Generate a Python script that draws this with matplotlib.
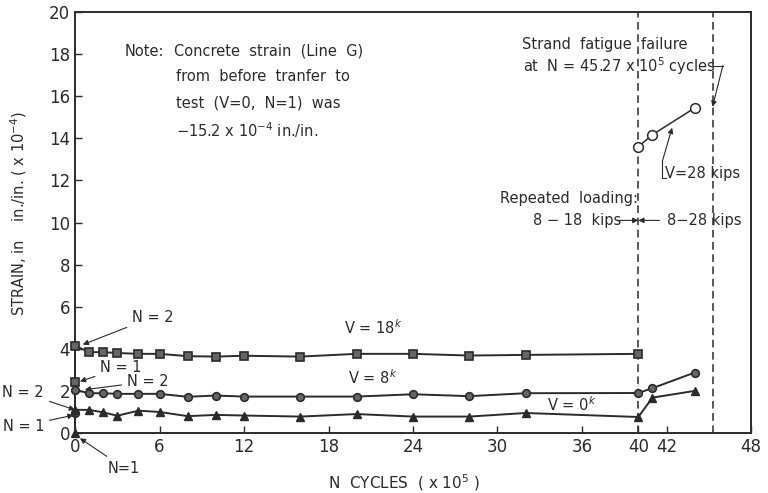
import matplotlib
matplotlib.use("Agg")
import matplotlib.pyplot as plt

# ---- data (N cycles x 10^5, strain x 10^-4) ----
sq_x = [0, 0, 1, 2, 3, 4.5, 6, 8, 10, 12, 16, 20, 24, 28, 32, 40]
sq_y = [2.4, 4.15, 3.84, 3.84, 3.8, 3.76, 3.76, 3.65, 3.63, 3.67, 3.63, 3.76, 3.76, 3.68, 3.71, 3.76]

ci_x = [0, 0, 1, 2, 3, 4.5, 6, 8, 10, 12, 16, 20, 24, 28, 32, 40, 41, 44]
ci_y = [0.95, 2.05, 1.89, 1.89, 1.86, 1.86, 1.86, 1.72, 1.78, 1.73, 1.73, 1.73, 1.84, 1.75, 1.89, 1.9, 2.13, 2.87]

tr_x = [0, 0, 1, 2, 3, 4.5, 6, 8, 10, 12, 16, 20, 24, 28, 32, 40, 41, 44]
tr_y = [0.0, 1.1, 1.1, 0.98, 0.82, 1.06, 1.0, 0.8, 0.86, 0.83, 0.78, 0.9, 0.78, 0.78, 0.95, 0.76, 1.68, 2.0]

v28_x = [40, 41, 44]
v28_y = [13.6, 14.17, 15.44]

load_change_x = 40
failure_x = 45.27

xticks = [0, 6, 12, 18, 24, 30, 36, 40, 42, 48]
yticks = [0, 2, 4, 6, 8, 10, 12, 14, 16, 18, 20]

C = "#2b2b2b"

fig = plt.figure(figsize=(7.68, 4.93), dpi=100)
ax = fig.add_axes([75/768, 1-433/493, (751-75)/768, (433-12)/493])
ax.set_xlim(0, 48)
ax.set_ylim(0, 20)

for s in ax.spines.values():
    s.set_color(C)
    s.set_linewidth(1.4)

ax.set_xticks(xticks)
ax.set_yticks(yticks)
ax.tick_params(direction="in", length=5, width=1.0, colors=C, labelsize=12, labelcolor=C)

# dashed reference lines
ax.axvline(load_change_x, color=C, lw=1.1, ls=(0, (5, 3)))
ax.axvline(failure_x, color=C, lw=1.1, ls=(0, (5, 3)))

lw = 1.4
ax.plot(sq_x, sq_y, color=C, lw=lw, marker="s", ms=5.5, mfc="#666666", mec=C, mew=1.2, clip_on=False, zorder=3)
ax.plot(ci_x, ci_y, color=C, lw=lw, marker="o", ms=5.5, mfc="#666666", mec=C, mew=1.2, clip_on=False, zorder=3)
ax.plot(tr_x, tr_y, color=C, lw=lw, marker="^", ms=6, mfc=C, mec=C, clip_on=False, zorder=3)
ax.plot(v28_x, v28_y, color=C, lw=1.1, marker="o", ms=7, mfc="white", mec=C, mew=1.1, clip_on=False, zorder=3)

fs = 10.5
ap = dict(arrowstyle="-|>", lw=0.8, color=C, mutation_scale=8, shrinkA=0, shrinkB=0)

# Note text
ax.text(3.55, 18.13, "Note:", fontsize=fs, color=C, va="center", ha="left")
ax.text(7.0, 18.13, "Concrete  strain  (Line  G)", fontsize=fs, color=C, va="center", ha="left")
ax.text(7.2, 16.94, "from  before  tranfer  to", fontsize=fs, color=C, va="center", ha="left")
ax.text(7.2, 15.69, "test  (V=0,  N=1)  was", fontsize=fs, color=C, va="center", ha="left")
ax.text(7.2, 14.4, "\u221215.2 x 10$^{-4}$ in./in.", fontsize=fs, color=C, va="center", ha="left")

# strand failure
ax.text(31.75, 18.47, "Strand  fatigue  failure", fontsize=fs, color=C, va="center", ha="left")
ax.text(31.8, 17.42, "at  N = 45.27 x 10$^5$ cycles", fontsize=fs, color=C, va="center", ha="left")
ax.plot([45.3, 46.0], [17.45, 17.45], color=C, lw=0.8)
ax.annotate("", xy=(failure_x, 15.5), xytext=(46.0, 17.45), arrowprops=ap)

# V = 28 kips
ax.text(41.9, 12.34, "V=28 kips", fontsize=fs, color=C, va="center", ha="left")
ax.plot([41.95, 41.7, 41.7], [12.1, 12.1, 12.9], color=C, lw=0.8)
ax.annotate("", xy=(42.4, 14.5), xytext=(41.7, 12.9), arrowprops=ap)

# repeated loading
ax.text(30.2, 11.15, "Repeated  loading:", fontsize=fs, color=C, va="center", ha="left")
ax.text(32.5, 10.1, "8 \u2212 18  kips", fontsize=fs, color=C, va="center", ha="left")
ax.text(42.05, 10.1, "8\u221228 kips", fontsize=fs, color=C, va="center", ha="left")
ax.annotate("", xy=(load_change_x, 10.1), xytext=(38.5, 10.1), arrowprops=ap)
ax.annotate("", xy=(load_change_x, 10.1), xytext=(41.5, 10.1), arrowprops=ap)

# series labels
ax.text(21.2, 5.02, "V = 18$^k$", fontsize=fs, color=C, va="center", ha="center")
ax.text(21.1, 2.63, "V = 8$^k$", fontsize=fs, color=C, va="center", ha="center")
ax.text(35.3, 1.34, "V = 0$^k$", fontsize=fs, color=C, va="center", ha="center")

# N labels
ax.annotate("N = 2", xy=(0.55, 4.2), xytext=(4.05, 5.5), fontsize=fs, color=C,
            va="center", ha="left", arrowprops=dict(ap, shrinkA=2))
ax.annotate("N = 1", xy=(0.35, 2.45), xytext=(1.8, 3.1), fontsize=fs, color=C,
            va="center", ha="left", arrowprops=dict(ap, shrinkA=2))
ax.annotate("N = 2", xy=(0.7, 2.06), xytext=(3.7, 2.44), fontsize=fs, color=C,
            va="center", ha="left", arrowprops=dict(ap, shrinkA=2))
ax.annotate("N = 2", xy=(0.0, 1.1), xytext=(-2.2, 1.91), fontsize=fs, color=C,
            va="center", ha="right", annotation_clip=False, arrowprops=dict(ap, shrinkA=2))
ax.annotate("N = 1", xy=(-0.1, 0.85), xytext=(-2.2, 0.33), fontsize=fs, color=C,
            va="center", ha="right", annotation_clip=False, arrowprops=dict(ap, shrinkA=2))
ax.annotate("N=1", xy=(0.35, -0.25), xytext=(2.35, -1.67), fontsize=fs, color=C,
            va="center", ha="left", annotation_clip=False, arrowprops=dict(ap, shrinkA=2))

ax.set_xlabel("N  CYCLES  ( x 10$^5$ )", fontsize=11, color=C)
ax.set_ylabel("STRAIN, in    in./in. ( x 10$^{-4}$)", fontsize=10.5, color=C)
ax.yaxis.set_label_coords(-0.068, 0.52)
ax.xaxis.set_label_coords(0.487, -0.093)

fig.savefig("out.png", dpi=100)
